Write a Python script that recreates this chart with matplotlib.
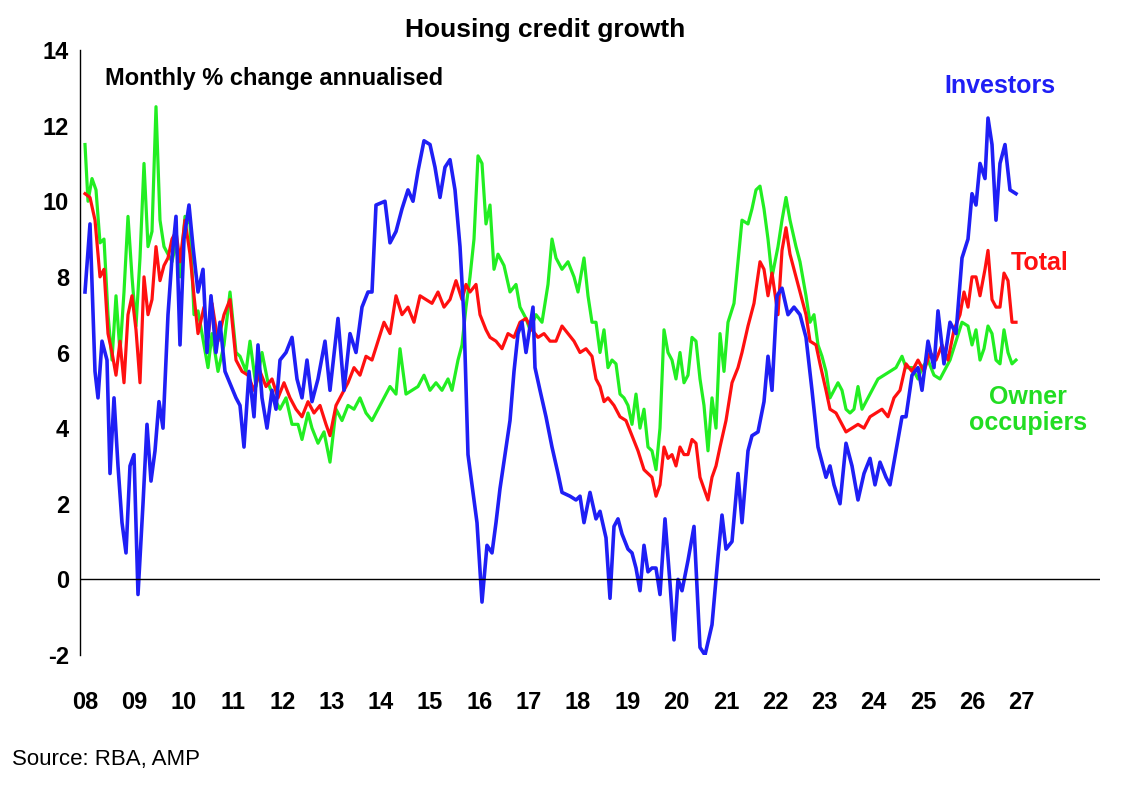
import numpy as np
import matplotlib
matplotlib.use("Agg")
import matplotlib.pyplot as plt

plt.rcParams['font.family'] = ['Liberation Sans', 'DejaVu Sans']
plt.rcParams['axes.unicode_minus'] = False

# readings: (position along time axis in chart-units, value); converted to decimal years below
inv_t = [85,90,95,98,102,107,110,114,118,122,126,130,134,138,143,147,151,155,159,163,168,172,176,180,184,189,193,198,203,207,211,216,220,225,236,240,244,249,254,258,262,267,272,276,280,286,292,297,302,307,312,318,325,330,338,344,350,356,362,368,372,376,385,390,396,402,408,413,418,424,430,435,440,445,450,455,460,464,468,472,477,482,487,492,496,500,505,510,514,518,522,526,533,535,540,546,552,558,562,570,576,580,584,590,596,600,606,610,614,618,622,628,632,636,640,644,648,652,656,660,665,670,674,678,682,688,694,700,705,712,718,722,726,732,738,742,748,752,758,764,768,772,777,782,788,794,800,806,812,818,822,826,830,834,840,846,852,858,864,870,875,880,886,890,896,902,906,912,918,922,928,934,938,944,950,956,962,968,972,976,980,985,988,992,996,1000,1005,1010,1016]
inv_v = [7.6,9.4,5.5,4.8,6.3,5.8,2.8,4.8,3.0,1.5,0.7,3.0,3.3,-0.4,2.0,4.1,2.6,3.4,4.7,4.0,7.0,8.5,9.6,6.2,9.0,9.9,8.8,7.6,8.2,6.0,7.5,6.0,6.8,5.5,4.8,4.6,3.5,5.5,4.3,6.2,4.8,4.0,5.0,4.5,5.8,6.0,6.4,5.3,4.8,5.8,4.7,5.3,6.3,5.0,6.9,5.0,6.5,6.0,7.2,7.6,7.6,9.9,10.0,8.9,9.2,9.8,10.3,10.0,10.8,11.6,11.5,10.9,10.1,10.9,11.1,10.3,8.8,6.9,3.3,2.5,1.5,-0.6,0.9,0.7,1.5,2.4,3.3,4.2,5.5,6.5,6.8,6.0,7.2,5.6,5.0,4.3,3.5,2.8,2.3,2.2,2.1,2.2,1.5,2.3,1.6,1.8,1.1,-0.5,1.4,1.6,1.2,0.8,0.7,0.3,-0.3,0.9,0.2,0.3,0.3,-0.4,1.6,-0.1,-1.6,0.0,-0.3,0.5,1.4,-1.8,-2.0,-1.2,0.6,1.7,0.8,1.0,2.8,1.5,3.4,3.8,3.9,4.7,5.9,5.0,7.5,7.7,7.0,7.2,7.0,6.4,5.0,3.5,3.1,2.7,3.0,2.5,2.0,3.6,3.0,2.1,2.8,3.2,2.5,3.1,2.7,2.5,3.4,4.3,4.3,5.4,5.6,5.0,6.3,5.6,7.1,5.7,6.8,6.5,8.5,9.0,10.2,9.9,11.0,10.6,12.2,11.5,9.5,11.0,11.5,10.3,10.2]

own_t = [85,88,92,96,100,104,108,112,116,120,124,128,132,136,140,144,148,152,156,160,164,168,172,176,180,185,190,194,198,204,208,212,218,224,230,236,240,246,250,256,262,268,274,280,286,292,298,302,308,312,318,324,330,336,342,348,354,360,366,372,378,384,390,396,400,406,412,418,424,430,436,442,448,452,458,462,466,470,474,478,482,486,490,494,498,504,510,516,520,526,530,536,542,548,552,556,562,568,574,578,584,588,592,596,600,604,608,612,616,620,624,628,632,636,640,644,648,652,656,660,664,668,672,676,680,684,688,692,696,700,704,708,712,716,720,724,728,734,738,742,748,752,756,760,764,768,772,778,782,786,790,796,800,806,810,814,818,822,826,830,834,838,842,846,850,854,858,862,866,872,878,884,890,896,902,906,912,918,922,928,934,940,944,950,956,962,968,972,976,980,984,988,992,996,1000,1004,1008,1012,1016]
own_v = [11.5,10.0,10.6,10.3,8.9,9.0,7.0,5.8,7.5,6.0,7.6,9.6,8.0,6.7,8.5,11.0,8.8,9.2,12.5,9.5,8.8,8.6,8.4,8.9,8.0,9.6,9.4,7.0,7.1,6.2,5.6,6.5,5.5,6.2,7.6,6.0,5.9,5.5,6.3,5.1,6.0,5.2,4.8,4.5,4.8,4.1,4.1,3.7,4.4,4.0,3.6,3.9,3.1,4.5,4.2,4.6,4.5,4.8,4.4,4.2,4.5,4.8,5.1,4.9,6.1,4.9,5.0,5.1,5.4,5.0,5.2,5.0,5.3,5.0,5.8,6.2,7.2,8.0,9.0,11.2,11.0,9.4,9.9,8.2,8.6,8.3,7.6,7.8,7.2,6.9,6.6,7.0,6.8,7.8,9.0,8.5,8.2,8.4,8.0,7.6,8.5,7.5,6.8,6.8,6.0,6.6,5.6,5.8,5.7,4.9,4.8,4.6,4.1,4.9,4.0,4.5,3.5,3.4,2.9,4.0,6.6,6.0,5.8,5.3,6.0,5.2,5.4,6.4,6.3,5.3,4.6,3.4,4.8,4.0,6.5,5.5,6.8,7.3,8.4,9.5,9.4,9.8,10.3,10.4,9.8,9.0,8.0,8.8,9.5,10.1,9.5,8.8,8.4,7.5,6.8,7.0,6.2,5.9,5.5,4.8,5.0,5.2,5.0,4.5,4.4,4.5,5.1,4.5,4.7,5.0,5.3,5.4,5.5,5.6,5.9,5.6,5.6,5.3,5.6,5.8,5.4,5.3,5.5,5.8,6.3,6.8,6.7,6.2,6.6,5.8,6.1,6.7,6.5,5.8,5.7,6.6,6.0,5.7,5.8]

tot_t = [85,90,95,100,104,108,112,116,120,124,128,132,136,140,144,148,152,156,160,164,168,172,176,180,185,190,194,198,204,208,212,218,224,230,236,242,248,254,260,266,272,278,284,290,296,302,308,314,320,326,330,336,342,348,354,360,366,372,378,384,390,396,402,408,414,420,426,432,438,444,450,456,462,466,470,476,480,486,490,496,502,508,514,520,526,532,538,544,550,556,562,568,574,580,586,592,596,600,604,608,614,620,626,632,638,644,648,652,656,660,664,668,672,676,680,684,688,692,696,700,704,708,712,716,720,726,732,738,742,748,754,760,764,768,772,778,782,786,790,796,800,806,810,816,820,826,830,836,840,846,852,858,864,870,876,882,888,894,900,906,912,918,924,930,936,942,948,954,960,964,968,972,976,980,985,988,992,996,1000,1004,1008,1012,1016]
tot_v = [10.2,10.1,9.5,8.0,8.2,6.5,6.0,5.4,6.3,5.2,7.0,7.5,6.6,5.2,8.0,7.0,7.4,8.8,7.9,8.3,8.5,9.0,9.2,8.4,9.5,8.6,7.5,6.5,7.2,6.4,7.3,6.3,7.0,7.4,5.8,5.5,5.4,5.0,5.5,5.1,5.3,4.8,5.2,4.8,4.5,4.3,4.7,4.4,4.6,4.1,3.8,4.6,4.9,5.2,5.6,5.4,5.9,5.8,6.3,6.8,6.5,7.5,7.0,7.2,6.8,7.5,7.4,7.3,7.6,7.2,7.4,7.9,7.4,7.8,7.6,7.8,7.0,6.6,6.4,6.3,6.1,6.5,6.4,6.8,6.9,6.6,6.4,6.5,6.3,6.3,6.7,6.5,6.3,6.0,6.1,5.9,5.3,5.1,4.7,4.8,4.6,4.3,4.2,3.8,3.4,2.9,2.8,2.7,2.2,2.5,3.5,3.2,3.3,3.0,3.5,3.3,3.3,3.7,3.6,2.7,2.4,2.1,2.7,3.0,3.5,4.2,5.2,5.6,6.0,6.7,7.3,8.4,8.2,7.5,8.1,7.0,8.7,9.3,8.6,8.0,7.6,7.0,6.3,6.2,5.7,5.0,4.5,4.4,4.2,3.9,4.0,4.1,4.0,4.3,4.4,4.5,4.3,4.8,5.0,5.7,5.5,5.8,5.5,6.0,5.8,6.2,5.8,6.6,7.0,7.6,7.2,8.0,8.0,7.5,8.2,8.7,7.4,7.2,7.2,8.1,7.9,6.8,6.8]

year_labels = ['08','09','10','11','12','13','14','15','16','17','18','19','20','21','22','23','24','25','26','27']

def to_year(t):
    return 2008 + (np.array(t) - 85) / 49.3

fig = plt.figure(figsize=(11.24, 7.86), dpi=100)
ax = fig.add_axes([80/1124, 1-655/786, 1020/1124, 605/786])

blue, red, green = '#1f1ff5', '#ff1010', '#22ee22'
ax.plot(to_year(own_t), own_v, color=green, lw=2.3)
ax.plot(to_year(tot_t), tot_v, color=red, lw=2.3)
ax.plot(to_year(inv_t), inv_v, color=blue, lw=2.6)

ax.set_xlim(2008 - 5/49.3, 2008 + 1015/49.3)
ax.set_ylim(-2, 14)
ax.set_yticks(range(-2, 15, 2))
ax.set_xticks(2008 + np.arange(len(year_labels)))
ax.set_xticklabels(year_labels)
ax.tick_params(axis='both', length=0, labelsize=17, pad=8)
for lab in ax.get_xticklabels() + ax.get_yticklabels():
    lab.set_fontweight('bold')
ax.tick_params(axis='x', pad=26)
ax.axhline(0, color='black', lw=1)
for s in ['top', 'right', 'bottom']:
    ax.spines[s].set_visible(False)
ax.spines['left'].set_linewidth(1)

fig.text(545/1124, 1-30/786, 'Housing credit growth', ha='center', va='center', fontsize=19, fontweight='bold')
fig.text(105/1124, 1-78/786, 'Monthly % change annualised', ha='left', va='center', fontsize=17, fontweight='bold')
fig.text(1000/1124, 1-86/786, 'Investors', ha='center', va='center', fontsize=18, fontweight='bold', color=blue)
fig.text(1040/1124, 1-263/786, 'Total', ha='center', va='center', fontsize=18, fontweight='bold', color=red)
fig.text(1028/1124, 1-410/786, 'Owner\noccupiers', ha='center', va='center', fontsize=18, fontweight='bold', color='#22dd22', linespacing=1.1)
fig.text(12/1124, 1-760/786, 'Source: RBA, AMP', ha='left', va='center', fontsize=16)

fig.savefig('out.png', dpi=100)
